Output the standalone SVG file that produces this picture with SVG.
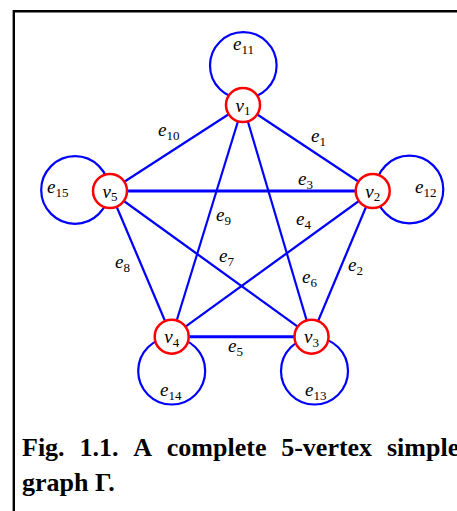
<svg xmlns="http://www.w3.org/2000/svg" width="457" height="511" viewBox="0 0 457 511">
<style>
.frame{fill:none;stroke:#000;stroke-width:2.4}
.edge{stroke:#0000ff;stroke-width:2.2;fill:none}
.thick{stroke-width:3}
.loop{stroke:#0000ff;stroke-width:2.2;fill:none}
.vert{fill:#fff;stroke:#ff0000;stroke-width:2.5}
.lbl{font-family:"Liberation Serif","Times New Roman",serif;font-style:italic;font-size:19px;fill:#000}
.sub{font-style:normal;font-size:13px}
.cap{font-family:"Liberation Serif","Times New Roman",serif;font-weight:bold;font-size:26px;fill:#000}
</style>
<rect width="457" height="511" fill="#fff"/>
<path class="frame" d="M13.8,511 V11.2 H457"/>
<g id="connectors">
<line class="edge" x1="243" y1="105" x2="372.7" y2="191"/>
<line class="edge" x1="372.7" y1="191" x2="311.5" y2="336.7"/>
<line class="edge thick" x1="110" y1="191" x2="372.7" y2="191"/>
<line class="edge" x1="372.7" y1="191" x2="171.7" y2="336.7"/>
<line class="edge thick" x1="171.7" y1="336.7" x2="311.5" y2="336.7"/>
<line class="edge" x1="243" y1="105" x2="311.5" y2="336.7"/>
<line class="edge" x1="110" y1="191" x2="311.5" y2="336.7"/>
<line class="edge" x1="110" y1="191" x2="171.7" y2="336.7"/>
<line class="edge" x1="243" y1="105" x2="171.7" y2="336.7"/>
<line class="edge" x1="243" y1="105" x2="110" y2="191"/>
<circle class="loop" cx="243.3" cy="65.5" r="33.3"/>
<circle class="loop" cx="409.5" cy="189.5" r="33.8"/>
<circle class="loop" cx="75" cy="190" r="33.8"/>
<circle class="loop" cx="171.7" cy="371" r="33.5"/>
<circle class="loop" cx="314.5" cy="371" r="33.5"/>
</g>
<g id="edge-labels">
<text class="lbl" x="233" y="50">e<tspan class="sub" dy="3.5">11</tspan></text>
<text class="lbl" x="158" y="136">e<tspan class="sub" dy="3.5">10</tspan></text>
<text class="lbl" x="311" y="142">e<tspan class="sub" dy="3.5">1</tspan></text>
<text class="lbl" x="298" y="185">e<tspan class="sub" dy="3.5">3</tspan></text>
<text class="lbl" x="47" y="193">e<tspan class="sub" dy="3.5">15</tspan></text>
<text class="lbl" x="415" y="193">e<tspan class="sub" dy="3.5">12</tspan></text>
<text class="lbl" x="216" y="221">e<tspan class="sub" dy="3.5">9</tspan></text>
<text class="lbl" x="296" y="225">e<tspan class="sub" dy="3.5">4</tspan></text>
<text class="lbl" x="115" y="268">e<tspan class="sub" dy="3.5">8</tspan></text>
<text class="lbl" x="219" y="262">e<tspan class="sub" dy="3.5">7</tspan></text>
<text class="lbl" x="348" y="271">e<tspan class="sub" dy="3.5">2</tspan></text>
<text class="lbl" x="302" y="283">e<tspan class="sub" dy="3.5">6</tspan></text>
<text class="lbl" x="228" y="352">e<tspan class="sub" dy="3.5">5</tspan></text>
<text class="lbl" x="160" y="396">e<tspan class="sub" dy="3.5">14</tspan></text>
<text class="lbl" x="305" y="396">e<tspan class="sub" dy="3.5">13</tspan></text>
</g>
<g id="v1"><circle class="vert" cx="243" cy="105" r="17"/><text class="lbl" x="235.5" y="111.5">v<tspan class="sub" dy="3.5">1</tspan></text></g>
<g id="v2"><circle class="vert" cx="372.7" cy="191" r="17"/><text class="lbl" x="365.2" y="197.5">v<tspan class="sub" dy="3.5">2</tspan></text></g>
<g id="v3"><circle class="vert" cx="311.5" cy="336.7" r="17"/><text class="lbl" x="304" y="343.2">v<tspan class="sub" dy="3.5">3</tspan></text></g>
<g id="v4"><circle class="vert" cx="171.7" cy="336.7" r="17"/><text class="lbl" x="164.2" y="343.2">v<tspan class="sub" dy="3.5">4</tspan></text></g>
<g id="v5"><circle class="vert" cx="110" cy="191" r="17"/><text class="lbl" x="102.5" y="197.5">v<tspan class="sub" dy="3.5">5</tspan></text></g>
<g id="caption">
<text class="cap" x="22" y="456">Fig.</text>
<text class="cap" x="79.4" y="456">1.1.</text>
<text class="cap" x="133.2" y="456">A</text>
<text class="cap" x="166.8" y="456">complete</text>
<text class="cap" x="281.2" y="456">5-vertex</text>
<text class="cap" x="387" y="456">simple</text>
<text class="cap" x="22" y="491">graph Γ.</text>
</g>
</svg>
